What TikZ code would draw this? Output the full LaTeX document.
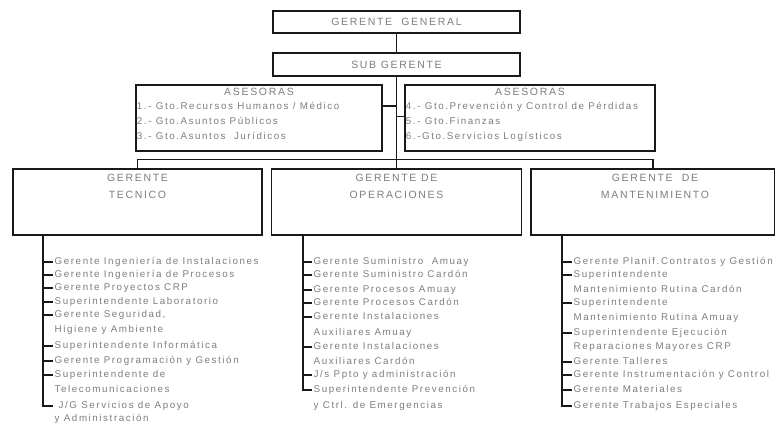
\documentclass[tikz,border=0pt]{standalone}
\usepackage{fontspec}
\newfontfamily\orgfont{Liberation Sans}[LetterSpace=16]
\usetikzlibrary{positioning,calc}
\definecolor{gristexto}{RGB}{125,125,125}
\definecolor{linea}{RGB}{25,25,25}

\begin{document}
\begin{tikzpicture}[x=1pt, y=-1pt,
  caja/.style={rectangle, draw=linea, line width=1.5pt, inner sep=0pt},
  cab/.style={inner sep=0pt, text=gristexto, align=center, font=\orgfont\fontsize{10.5}{17}\selectfont},
  item/.style={anchor=west, inner sep=1.5pt, text=gristexto, text height=7pt, text depth=2.4pt, font=\orgfont\fontsize{9.8}{13}\selectfont},
  enlace/.style={draw=linea, line width=1.5pt}
]
\useasboundingbox (0,0) rectangle (775,425);

\node[caja, minimum width=247, minimum height=22] (gg) at (396.5,22) {};
\node[cab] (ggTxt) at (gg) {GERENTE\ \ GENERAL};
\node[caja, minimum width=247, minimum height=23] (sg) at (396.5,64.5) {};
\node[cab] (sgTxt) at (sg) {SUB GERENTE};

\node[caja, minimum width=246, minimum height=66] (aseIzq) at (259,118) {};
\node[caja, minimum width=250, minimum height=66] (aseDer) at (530,118) {};
\node[cab, anchor=center] (aseIzqTxt) at ([yshift=-8pt]aseIzq.north) {ASESORAS};
\node[cab, anchor=center] (aseDerTxt) at ([yshift=-8pt]aseDer.north) {ASESORAS};
\node[item] (a1) at ([yshift=-23pt]aseIzq.north west) {1.- Gto.Recursos Humanos / Médico};
\node[item] (a2) at ([yshift=-38pt]aseIzq.north west) {2.- Gto.Asuntos Públicos};
\node[item] (a3) at ([yshift=-53pt]aseIzq.north west) {3.- Gto.Asuntos\ \ Jurídicos};
\node[item] (a4) at ([yshift=-23pt]aseDer.north west) {4.- Gto.Prevención y Control de Pérdidas};
\node[item] (a5) at ([yshift=-38pt]aseDer.north west) {5.- Gto.Finanzas};
\node[item] (a6) at ([yshift=-53pt]aseDer.north west) {6.-Gto.Servicios Logísticos};

\node[caja, minimum width=249, minimum height=66] (tec) at (137.5,202) {};
\node[caja, minimum width=250, minimum height=66] (ope) at (396.5,202) {};
\node[caja, minimum width=244, minimum height=66] (man) at (653,202) {};
\node[cab] (tecTxt) at (137.5,186.5) {GERENTE\\TECNICO};
\node[cab] (opeTxt) at (396.5,186.5) {GERENTE DE\\OPERACIONES};
\node[cab] (manTxt) at (655,186.5) {GERENTE\ \ DE\\MANTENIMIENTO};

\draw[enlace] (gg) -- (sg);
\draw[enlace] (sg.south) -- (ope.north);
\draw[enlace] (tec.north) -- ++(0,-9) -| (man.north);
\draw[enlace] ([yshift=-22pt]aseIzq.north east) -- ([yshift=-22pt]aseIzq.north east -| sg.south);
\draw[enlace] ([yshift=-32pt]aseDer.north west) -- ([yshift=-32pt]aseDer.north west -| sg.south);

% gerencia tecnica
\coordinate (tecBar) at (43,0);
\node[item] (tec1) at (53,262) {Gerente Ingeniería de Instalaciones};
\node[item] (tec2) at (53,275) {Gerente Ingeniería de Procesos};
\node[item] (tec3) at (53,288) {Gerente Proyectos CRP};
\node[item] (tec4) at (53,302) {Superintendente Laboratorio};
\node[item] (tec5) at (53,315) {Gerente Seguridad,};
\node[item] (tec5b) at (53,330) {Higiene y Ambiente};
\node[item] (tec6) at (53,346) {Superintendente Informática};
\node[item] (tec7) at (53,361) {Gerente Programación y Gestión};
\node[item] (tec8) at (53,375) {Superintendente de};
\node[item] (tec8b) at (53,390) {Telecomunicaciones};
\node[item] (tec9) at (53,406) {\hspace{4pt}J/G Servicios de Apoyo};
\node[item] (tec9b) at (53,419) {y Administración};
\draw[enlace] (tec.south -| tecBar) -- (tecBar |- tec9.west) -- (tec9.west);
\foreach \n in {tec1,tec2,tec3,tec4,tec5,tec6,tec7,tec8}
  \draw[enlace] (tecBar |- \n.west) -- (\n.west);

% gerencia de operaciones
\coordinate (opeBar) at (303,0);
\node[item] (ope1) at (312,262) {Gerente Suministro\ \ Amuay};
\node[item] (ope2) at (312,275) {Gerente Suministro Cardón};
\node[item] (ope3) at (312,290) {Gerente Procesos Amuay};
\node[item] (ope4) at (312,303) {Gerente Procesos Cardón};
\node[item] (ope5) at (312,317) {Gerente Instalaciones};
\node[item] (ope5b) at (312,333) {Auxiliares Amuay};
\node[item] (ope6) at (312,347) {Gerente Instalaciones};
\node[item] (ope6b) at (312,362) {Auxiliares Cardón};
\node[item] (ope7) at (312,375) {J/s Ppto y administración};
\node[item] (ope8) at (312,390) {Superintendente Prevención};
\node[item] (ope8b) at (312,406) {y Ctrl. de Emergencias};
\draw[enlace] (ope.south -| opeBar) -- (opeBar |- ope8.west) -- (ope8.west);
\foreach \n in {ope1,ope2,ope3,ope4,ope5,ope6,ope7}
  \draw[enlace] (opeBar |- \n.west) -- (\n.west);

% gerencia de mantenimiento
\coordinate (manBar) at (562,0);
\node[item] (man1) at (572,262) {Gerente Planif.Contratos y Gestión};
\node[item] (man2) at (572,275) {Superintendente};
\node[item] (man2b) at (572,290) {Mantenimiento Rutina Cardón};
\node[item] (man3) at (572,303) {Superintendente};
\node[item] (man3b) at (572,318) {Mantenimiento Rutina Amuay};
\node[item] (man4) at (572,333) {Superintendente Ejecución};
\node[item] (man4b) at (572,347) {Reparaciones Mayores CRP};
\node[item] (man5) at (572,362) {Gerente Talleres};
\node[item] (man6) at (572,375) {Gerente Instrumentación y Control};
\node[item] (man7) at (572,390) {Gerente Materiales};
\node[item] (man8) at (572,406) {Gerente Trabajos Especiales};
\draw[enlace] (man.south -| manBar) -- (manBar |- man8.west) -- (man8.west);
\foreach \n in {man1,man2,man3,man4,man5,man6,man7}
  \draw[enlace] (manBar |- \n.west) -- (\n.west);
\end{tikzpicture}
\end{document}
